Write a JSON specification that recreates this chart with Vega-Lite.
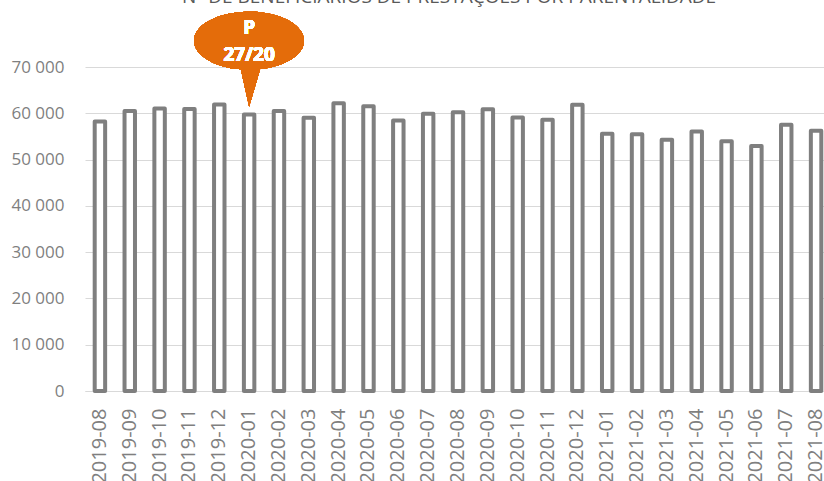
{
  "$schema": "https://vega.github.io/schema/vega-lite/v6.json",
  "width": 746,
  "height": 324,
  "autosize": {"type": "none"},
  "padding": {"left": 85, "top": 67, "right": 0, "bottom": 90},
  "background": "white",
  "title": {
    "text": "Nº DE BENEFICIÁRIOS DE PRESTAÇÕES POR PARENTALIDADE",
    "font": "Open Sans",
    "fontSize": 19,
    "fontWeight": "normal",
    "color": "#595959",
    "anchor": "middle",
    "baseline": "alphabetic",
    "offset": -10,
    "dx": -9
  },
  "config": {
    "view": {"stroke": null},
    "axis": {"labelFont": "Open Sans", "labelColor": "#7f7f7f", "title": null, "ticks": false}
  },
  "data": {
    "values": [
      {"month": "2019-08", "beneficiarios": 58200},
      {"month": "2019-09", "beneficiarios": 60500},
      {"month": "2019-10", "beneficiarios": 61050},
      {"month": "2019-11", "beneficiarios": 60900},
      {"month": "2019-12", "beneficiarios": 61900},
      {"month": "2020-01", "beneficiarios": 59750},
      {"month": "2020-02", "beneficiarios": 60500},
      {"month": "2020-03", "beneficiarios": 59050},
      {"month": "2020-04", "beneficiarios": 62150},
      {"month": "2020-05", "beneficiarios": 61500},
      {"month": "2020-06", "beneficiarios": 58450},
      {"month": "2020-07", "beneficiarios": 59900},
      {"month": "2020-08", "beneficiarios": 60200},
      {"month": "2020-09", "beneficiarios": 60850},
      {"month": "2020-10", "beneficiarios": 59100},
      {"month": "2020-11", "beneficiarios": 58600},
      {"month": "2020-12", "beneficiarios": 61850},
      {"month": "2021-01", "beneficiarios": 55600},
      {"month": "2021-02", "beneficiarios": 55450},
      {"month": "2021-03", "beneficiarios": 54300},
      {"month": "2021-04", "beneficiarios": 56050},
      {"month": "2021-05", "beneficiarios": 53950},
      {"month": "2021-06", "beneficiarios": 52950},
      {"month": "2021-07", "beneficiarios": 57550},
      {"month": "2021-08", "beneficiarios": 56250}
    ]
  },
  "layer": [
    {
      "mark": {"type": "bar", "fill": "white", "stroke": "#7f7f7f", "strokeWidth": 4, "strokeJoin": "round"},
      "encoding": {
        "x": {
          "field": "month",
          "type": "ordinal",
          "scale": {"paddingInner": 0.65, "paddingOuter": 0.325},
          "axis": {
            "labelAngle": -90,
            "labelFontSize": 20,
            "labelPadding": 17,
            "domain": true,
            "domainColor": "#d9d9d9",
            "domainWidth": 1,
            "grid": false
          }
        },
        "y": {
          "field": "beneficiarios",
          "type": "quantitative",
          "scale": {"domain": [0, 70000], "nice": false},
          "axis": {
            "values": [0, 10000, 20000, 30000, 40000, 50000, 60000, 70000],
            "labelExpr": "replace(format(datum.value, ','), ',', ' ')",
            "labelFontSize": 17,
            "labelPadding": 21,
            "domain": false,
            "grid": true,
            "gridColor": "#d9d9d9",
            "gridWidth": 1
          }
        }
      }
    },
    {
      "mark": {
        "type": "point",
        "shape": "M0.2,0.516 A1,0.527 0 1 0 -0.15,0.521 L0,1.2 Z",
        "size": 12100,
        "filled": true,
        "color": "#E46C0A",
        "opacity": 1
      },
      "encoding": {"x": {"datum": "2020-01"}, "y": {"datum": 75700}}
    },
    {
      "mark": {
        "type": "text",
        "text": "P",
        "font": "Open Sans",
        "fontWeight": "bold",
        "fontSize": 19,
        "color": "white",
        "baseline": "middle",
        "align": "center",
        "dy": -13
      },
      "encoding": {"x": {"datum": "2020-01"}, "y": {"datum": 75700}}
    },
    {
      "mark": {
        "type": "text",
        "text": "27/20",
        "font": "Open Sans",
        "fontWeight": "bold",
        "fontSize": 19,
        "color": "white",
        "baseline": "middle",
        "align": "center",
        "dy": 14
      },
      "encoding": {"x": {"datum": "2020-01"}, "y": {"datum": 75700}}
    }
  ]
}
